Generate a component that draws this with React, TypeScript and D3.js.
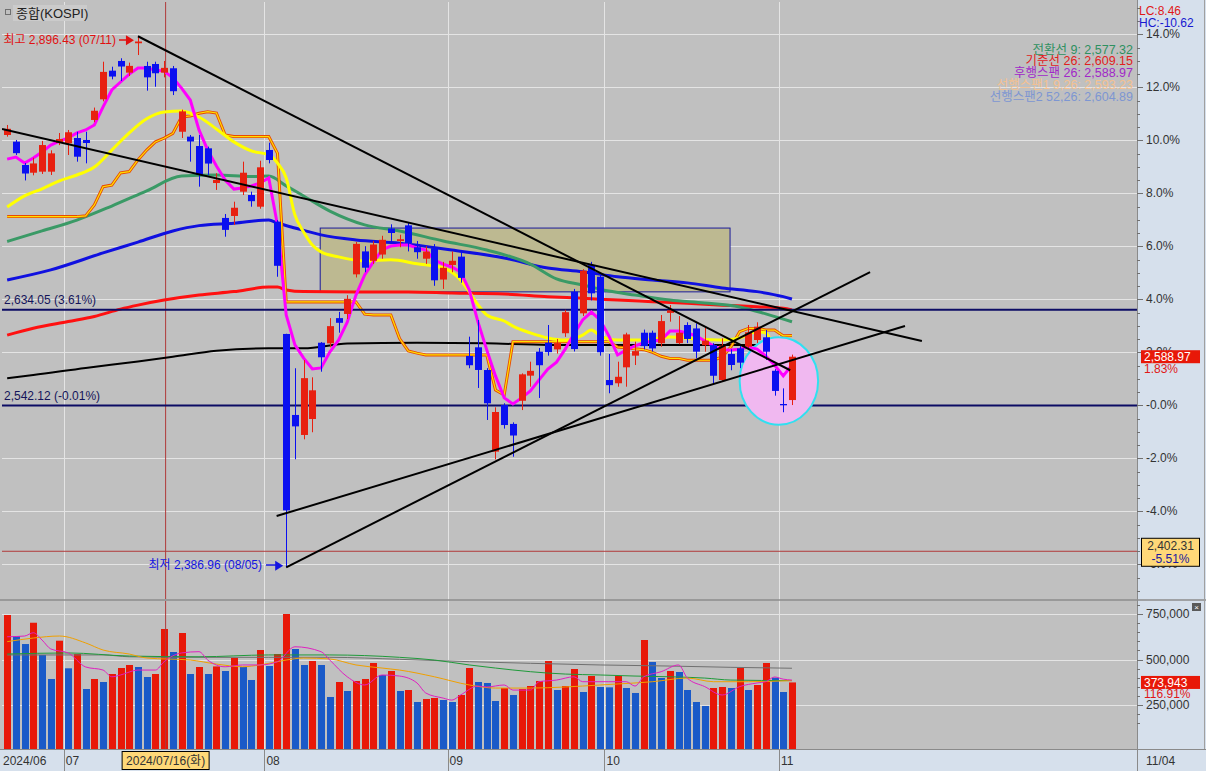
import React from "react";
import * as d3 from "d3";

const W = 1206;
const H = 771;
const BASE = 2542.36;
const FONT = "'Liberation Sans', Arial, 'Noto Sans CJK KR', sans-serif";

const DATES = [
  "06/20","06/21","06/24","06/25","06/26","06/27","06/28",
  "07/01","07/02","07/03","07/04","07/05","07/08","07/09","07/10","07/11","07/12","07/15","07/16","07/17","07/18","07/19","07/22","07/23","07/24","07/25","07/26","07/29","07/30","07/31",
  "08/01","08/02","08/05","08/06","08/07","08/08","08/09","08/12","08/13","08/14","08/16","08/19","08/20","08/21","08/22","08/23","08/26","08/27","08/28","08/29","08/30",
  "09/02","09/03","09/04","09/05","09/06","09/09","09/10","09/11","09/12","09/13","09/19","09/20","09/23","09/24","09/25","09/26","09/27","09/30",
  "10/02","10/04","10/07","10/08","10/10","10/11","10/14","10/15","10/16","10/17","10/18","10/21","10/22","10/23","10/24","10/25","10/28","10/29","10/30","10/31",
  "11/01","11/04",
];

const OPEN = [2801.7,2795.3,2772.9,2765.5,2766.5,2766.5,2794.0,2793.7,2798.8,2796.9,2816.1,2835.9,2863.4,2872.7,2861.5,2889.7,2867.9,2869.8,2861.5,2865.7,2804.8,2800.1,2791.1,2788.9,2755.6,2722.1,2724.0,2747.3,2744.1,2732.9,2787.3,2718.5,2610.8,2533.1,2513.9,2529.2,2602.4,2601.8,2626.0,2630.0,2668.0,2690.0,2681.0,2687.0,2712.0,2700.0,2715.0,2694.0,2683.0,2693.0,2663.0,2677.0,2685.0,2589.7,2598.0,2576.2,2497.9,2542.6,2524.5,2546.7,2570.8,2593.8,2602.4,2596.0,2611.5,2651.4,2630.6,2676.9,2665.7,2566.6,2563.5,2578.8,2590.0,2612.0,2612.0,2601.9,2631.0,2602.0,2619.4,2616.1,2600.0,2600.1,2566.6,2591.6,2597.0,2598.6,2605.0,2607.6,2575.5,2543.6,2547.4];
const HIGH = [2811.3,2796.9,2774.8,2779.9,2796.0,2787.0,2803.6,2806.5,2804.8,2804.8,2828.0,2872.0,2867.2,2875.3,2871.1,2896.43,2872.0,2872.0,2872.7,2867.9,2826.0,2801.7,2801.7,2790.5,2765.0,2725.9,2737.7,2776.1,2747.3,2777.0,2794.3,2720.0,2611.0,2577.9,2585.8,2569.2,2603.0,2626.0,2632.0,2648.0,2699.0,2695.0,2700.0,2705.0,2716.0,2706.0,2718.0,2700.0,2695.0,2697.0,2680.0,2690.0,2690.0,2608.2,2624.2,2578.0,2540.4,2544.3,2526.0,2573.0,2584.2,2597.3,2619.4,2606.0,2634.0,2654.0,2673.0,2680.0,2668.0,2591.6,2584.2,2612.0,2603.4,2615.0,2614.0,2629.0,2638.6,2628.0,2622.0,2621.0,2618.4,2602.0,2606.6,2596.0,2600.0,2619.4,2622.0,2614.6,2577.0,2558.6,2591.0];
const LOW = [2800.1,2782.5,2758.1,2763.0,2764.3,2763.3,2792.0,2782.5,2776.1,2774.5,2814.0,2834.0,2855.1,2853.5,2858.3,2878.4,2844.2,2848.0,2857.0,2840.0,2798.8,2776.1,2752.1,2763.3,2749.0,2704.1,2715.3,2744.1,2732.9,2731.0,2774.5,2665.7,2386.96,2490.6,2509.7,2516.5,2574.6,2598.0,2612.0,2625.0,2665.0,2670.0,2678.0,2683.0,2700.0,2694.0,2690.0,2683.0,2678.0,2657.0,2654.0,2670.0,2660.0,2577.9,2559.0,2528.3,2490.5,2520.0,2493.0,2537.8,2560.2,2549.4,2590.0,2592.0,2608.0,2594.0,2628.0,2643.0,2590.0,2553.9,2560.2,2560.2,2581.0,2596.0,2594.0,2598.6,2622.6,2601.0,2602.0,2587.5,2593.8,2562.8,2565.0,2576.0,2578.0,2595.4,2602.0,2585.8,2551.6,2535.7,2542.6];
const CLOSE = [2807.63,2784.26,2764.73,2774.39,2792.05,2784.06,2797.82,2804.31,2780.86,2794.01,2824.94,2862.23,2857.76,2867.38,2867.99,2891.35,2857.0,2860.92,2866.09,2843.69,2824.35,2795.46,2763.51,2774.29,2758.59,2710.65,2731.9,2765.49,2738.19,2770.69,2777.68,2676.19,2441.55,2522.15,2568.41,2556.73,2588.43,2618.3,2621.5,2644.5,2697.23,2674.36,2696.63,2701.13,2707.67,2701.69,2698.01,2689.25,2689.83,2662.28,2674.31,2681.0,2664.63,2580.8,2576.26,2544.28,2535.93,2523.43,2513.37,2572.09,2575.41,2580.8,2593.37,2602.01,2631.68,2596.32,2671.57,2649.78,2593.27,2561.69,2569.71,2610.38,2594.36,2599.16,2596.91,2623.16,2633.45,2612.0,2606.0,2593.82,2604.39,2570.7,2599.62,2581.03,2583.27,2612.43,2617.8,2593.79,2556.15,2542.36,2588.97];
const VOLUME = [744500,629000,585000,702000,524700,392900,603300,451600,530200,337900,392900,376400,420300,453300,469800,458800,403800,420300,667600,541200,645600,420300,458800,420300,462000,436800,508200,458800,387400,552200,464300,530200,750000,557700,469800,491800,469800,294000,376400,327000,382000,392900,480800,414800,436800,327000,332400,266500,283000,288500,277500,266500,305000,453300,376400,370900,272000,343400,305000,337900,354400,382000,491800,332400,354400,447800,321400,409300,348900,347000,409300,343400,316000,607100,486300,398400,436800,431300,332400,266500,244500,343400,348900,343400,453300,332400,359900,480800,400000,321400,373943];

// lines, values in % of the right axis
const MAGENTA_PCT = [9.29,9.37,9.14,9.33,9.56,9.82,9.97,10.09,10.28,10.39,10.58,11.26,11.9,12.2,12.5,12.73,12.73,12.65,12.61,12.36,11.97,11.52,10.39,9.63,9.03,8.5,8.16,8.2,8.28,8.39,8.58,6.8,3.41,2.28,1.78,1.37,1.41,2.01,2.46,3.14,4.16,4.92,5.41,5.86,6.01,6.05,6.05,5.94,5.86,5.48,5.33,5.22,5.03,4.35,3.14,2.09,1.11,0.28,0.05,0.28,0.54,0.96,1.37,1.63,2.12,2.69,3.22,3.52,3.22,2.62,1.9,2.09,2.24,2.35,2.43,2.46,2.8,2.8,2.73,2.62,2.43,2.24,2.09,2.09,2.12,2.2,2.12,1.86,1.52,1.11,1.52];
const BASELINE_PCT = [7.12,7.12,7.12,7.12,7.12,7.12,7.12,7.12,7.12,7.15,7.56,8.25,8.31,8.77,8.82,9.26,9.63,9.94,10.08,10.26,10.88,10.92,11.02,11.08,11.03,10.2,10.14,10.14,10.14,10.14,10.14,9.51,3.9,3.9,3.9,3.9,3.9,3.9,3.9,3.9,3.9,3.44,3.41,3.41,3.41,2.52,2.05,1.97,1.9,1.9,1.9,1.9,1.9,1.9,1.9,1.9,0.58,0.39,2.4,2.4,2.4,2.4,2.4,2.4,2.4,2.4,2.4,2.4,2.4,2.4,2.2,2.17,2.13,2.1,2.0,1.85,1.77,1.77,1.7,1.7,1.7,1.7,1.83,2.2,2.78,2.9,2.9,2.84,2.84,2.62,2.63];
const YELLOW: [number, number][] = [[0,7.48],[2,7.9],[4,8.17],[6,8.47],[8,8.69],[10,8.99],[12,9.63],[14,10.28],[16,10.81],[18,11.07],[20,11.11],[22,10.88],[24,10.43],[26,9.94],[28,9.6],[30,9.45],[31,9.14],[32,8.58],[33,7.18],[34,6.54],[35,6.05],[36,5.79],[38,5.6],[41,5.45],[44,5.49],[47,5.34],[50,5.18],[52,4.73],[53,4.28],[54,3.79],[55,3.41],[57,3.18],[58,2.99],[60,2.73],[62,2.54],[64,2.46],[66,2.65],[67,2.84],[68,2.62],[70,2.46],[73,2.46],[76,2.58],[79,2.5],[82,2.46],[84,2.54],[86,2.78],[87,2.73],[88,2.2],[89,1.97],[90,1.9]];
const GREEN: [number, number][] = [[0,6.18],[4,6.58],[8,6.99],[12,7.52],[16,8.09],[20,8.65],[24,8.69],[28,8.63],[30,8.65],[32,8.28],[34,7.9],[37,7.33],[41,6.81],[45,6.58],[50,6.2],[55,5.86],[60,5.33],[63,4.77],[66,4.54],[69,4.31],[72,4.16],[76,3.97],[80,3.86],[84,3.71],[87,3.45],[90,3.15]];
const BLUE: [number, number][] = [[0,4.73],[5,5.11],[11,5.75],[15,6.16],[19,6.58],[22,6.78],[26,6.87],[30,6.99],[31,6.88],[33,6.69],[36,6.43],[40,6.24],[45,6.12],[51,5.86],[57,5.56],[62,5.18],[66,5.04],[70,4.85],[74,4.73],[78,4.62],[82,4.43],[86,4.29],[89,4.1],[90,4.01]];
const RED: [number, number][] = [[0,2.65],[3,2.91],[7,3.16],[10,3.35],[13,3.63],[15,3.78],[18,3.97],[22,4.16],[26,4.29],[30,4.46],[31,4.46],[32,4.35],[34,4.29],[40,4.28],[46,4.28],[51,4.24],[57,4.2],[62,4.1],[66,4.04],[70,3.97],[74,3.91],[78,3.85],[82,3.78],[86,3.72],[89,3.66],[90,3.6]];
const BLACK: [number, number][] = [[0,1.02],[3,1.14],[9,1.41],[15,1.65],[19,1.83],[24,2.06],[30,2.15],[34,2.15],[39,2.33],[47,2.36],[55,2.34],[62,2.28],[75,2.28],[90,2.28]];

// volume moving averages
const VOL_MA5: [number, number][] = [[0,625000],[2,629000],[3,647000],[4,607000],[5,558000],[7,536000],[9,459000],[11,442000],[12,405000],[13,415000],[15,442000],[17,442000],[18,488000],[20,536000],[22,543000],[23,497000],[25,460000],[27,470000],[29,470000],[31,488000],[33,570000],[36,543000],[37,497000],[39,405000],[41,360000],[43,415000],[45,409000],[47,371000],[48,316000],[50,288000],[51,277000],[52,305000],[54,354000],[55,349000],[57,360000],[58,332000],[60,332000],[61,378000],[63,387000],[65,405000],[66,378000],[69,378000],[71,378000],[72,354000],[73,405000],[75,433000],[77,470000],[78,398000],[80,351000],[82,305000],[84,351000],[86,371000],[87,378000],[88,404000],[89,392000],[90,387000]];
const VOL_MA20: [number, number][] = [[0,598000],[3,618000],[6,629000],[9,591000],[11,552000],[14,530000],[16,508000],[21,497000],[24,475000],[27,460000],[29,470000],[32,497000],[34,508000],[37,503000],[40,470000],[43,453000],[45,442000],[49,405000],[53,360000],[56,343000],[60,343000],[64,349000],[68,360000],[72,371000],[74,378000],[78,398000],[81,378000],[85,378000],[90,384000]];
const VOL_MA60: [number, number][] = [[0,530000],[7,536000],[14,519000],[22,515000],[30,525000],[37,525000],[45,512000],[49,497000],[53,470000],[56,453000],[60,433000],[64,420000],[68,415000],[72,409000],[76,405000],[80,398000],[83,387000],[90,384000]];
const VOL_MA120: [number, number][] = [[0,525000],[11,525000],[14,515000],[22,512000],[30,512000],[37,512000],[45,501000],[53,488000],[60,479000],[68,470000],[76,464000],[83,457000],[90,452000]];

// drawings: [index1, price1, index2, price2]
const TRENDS: [number, number, number, number][] = [
  [15, 2896.43, 89.8, 2576.0],
  [-0.59, 2807.5, 104.9, 2604.1],
  [32, 2386.96, 98.96, 2670.2],
  [30.9, 2436.1, 102.96, 2618.4],
];
const BOX = [35.9, 2712.4, 82.9, 2651.2];
const ELLIPSE = [88.5, 2565.7, 4.5, 42];
const HLINES = [
  { price: 2634.05, label: "2,634.05 (3.61%)" },
  { price: 2542.12, label: "2,542.12 (-0.01%)" },
];
const PCT_TICKS = [14, 12, 10, 8, 6, 4, 2, 0, -2, -4, -6];
const VOL_TICKS = [750000, 500000, 250000];
const LEGEND = [
  { text: "전환선 9: 2,577.32", color: "#2e9060" },
  { text: "기준선 26: 2,609.15", color: "#e02020" },
  { text: "후행스팬 26: 2,588.97", color: "#a028c8" },
  { text: "선행스팬1 9,26: 2,593.23", color: "#f4c090" },
  { text: "선행스팬2 52,26: 2,604.89", color: "#7d96d2" },
];
const CROSS_INDEX = 18;
const CROSS_PRICE = 2402.31;
const HIGH_INDEX = 15;
const LOW_INDEX = 32;

export default function App() {
  const PL = 2, PR = 1137, PT = 2, PB = 599, VT = 601, VB = 749;
  const x = d3.scaleLinear().domain([0, 90]).range([7.16, 791.96]);
  const y = d3.scaleLinear().domain([BASE, BASE * 1.14]).range([405.3, 34.3]);
  const py = (p: number) => y(BASE * (1 + p / 100));
  const vy = d3.scaleLinear().domain([0, 750000]).range([750.5, 614]);

  const smooth = d3.line<[number, number]>().x((d) => x(d[0])).y((d) => py(d[1])).curve(d3.curveMonotoneX);
  const straight = d3.line<number>().x((_, i) => x(i)).y((d) => py(d));
  const volLine = d3.line<[number, number]>().x((d) => x(d[0])).y((d) => vy(d[1])).curve(d3.curveMonotoneX);

  const CANDLE_RED = "#e82010";
  const CANDLE_BLUE = "#0a10f0";
  const VOL_RED = "#e81808";
  const VOL_BLUE = "#1a5ac8";

  const monthStarts: number[] = [];
  DATES.forEach((d, i) => {
    if (i > 0 && d.slice(0, 2) !== DATES[i - 1].slice(0, 2)) monthStarts.push(i);
  });

  const last = CLOSE.length - 1;
  const lastPct = (CLOSE[last] / BASE - 1) * 100;

  const minorPct = d3.range(-7, 15.01, 0.5);
  const minorVol = d3.range(150000, 800001, 50000);

  return (
    <svg width={W} height={H} style={{ position: "absolute", left: 0, top: 0, background: "#c0c0c0" }} fontFamily={FONT}>
      <defs>
        <clipPath id="price"><rect x={PL} y={PT} width={PR - PL} height={PB - PT} /></clipPath>
        <clipPath id="vol"><rect x={PL} y={VT} width={PR - PL} height={VB - VT} /></clipPath>
      </defs>
      <rect x={0} y={0} width={W} height={H} fill="#c0c0c0" />

      {/* grid */}
      <g stroke="#e4e4e4" strokeWidth={1}>
        {PCT_TICKS.map((p) => (
          <line key={p} x1={PL} x2={PR} y1={Math.round(py(p)) + 0.5} y2={Math.round(py(p)) + 0.5} />
        ))}
        {VOL_TICKS.map((v) => (
          <line key={v} x1={PL} x2={PR} y1={Math.round(vy(v)) + 0.5} y2={Math.round(vy(v)) + 0.5} />
        ))}
        {monthStarts.map((i) => (
          <line key={i} x1={Math.round(x(i - 0.5)) + 0.5} x2={Math.round(x(i - 0.5)) + 0.5} y1={PT} y2={VB} />
        ))}
      </g>

      <g clipPath="url(#price)">
        {/* shaded box */}
        <rect x={x(BOX[0])} y={y(BOX[1])} width={x(BOX[2]) - x(BOX[0])} height={y(BOX[3]) - y(BOX[1])}
          fill="#bdb991" stroke="#1a1a9a" strokeWidth={1} />

        {/* crosshair */}
        <line x1={x(CROSS_INDEX) + 1.5} x2={x(CROSS_INDEX) + 1.5} y1={PT} y2={VB} stroke="#b03a3a" strokeWidth={1} />
        <line x1={PL} x2={PR} y1={y(CROSS_PRICE)} y2={y(CROSS_PRICE)} stroke="#b03a3a" strokeWidth={1} />

        {/* moving averages */}
        <path d={smooth(BLACK) || ""} fill="none" stroke="#000" strokeWidth={2} />
        <path d={smooth(RED) || ""} fill="none" stroke="#ff1010" strokeWidth={3} />
        <path d={smooth(BLUE) || ""} fill="none" stroke="#1010e0" strokeWidth={3} />
        <path d={smooth(GREEN) || ""} fill="none" stroke="#3a9a66" strokeWidth={3} />
        <path d={straight(BASELINE_PCT) || ""} fill="none" stroke="#e84a00" strokeWidth={3} />
        <path d={straight(BASELINE_PCT) || ""} fill="none" stroke="#ffe000" strokeWidth={1.2} />
        <path d={smooth(YELLOW) || ""} fill="none" stroke="#ffff00" strokeWidth={3} />

        {/* horizontal levels */}
        {HLINES.map((h) => (
          <g key={h.label}>
            <line x1={PL} x2={PR} y1={y(h.price)} y2={y(h.price)} stroke="#0c0c64" strokeWidth={2} />
            <text x={4} y={y(h.price) - 6} fontSize={12} fill="#14145a">{h.label}</text>
          </g>
        ))}

        {/* highlight ellipse */}
        <ellipse cx={x(ELLIPSE[0])} cy={y(ELLIPSE[1])} rx={x(ELLIPSE[0] + ELLIPSE[2]) - x(ELLIPSE[0])}
          ry={y(ELLIPSE[1] - ELLIPSE[3]) - y(ELLIPSE[1])} fill="#f0b8f0" stroke="#30e0f0" strokeWidth={2} />

        <path d={straight(MAGENTA_PCT) || ""} fill="none" stroke="#ff00ff" strokeWidth={3} />

        {/* candles */}
        {CLOSE.map((c, i) => {
          const o = OPEN[i];
          const up = c >= o;
          const col = up ? CANDLE_RED : CANDLE_BLUE;
          const cx = Math.round(x(i));
          const top = y(Math.max(o, c));
          const bot = y(Math.min(o, c));
          return (
            <g key={i}>
              <line x1={cx + 0.5} x2={cx + 0.5} y1={y(HIGH[i])} y2={y(LOW[i])} stroke={col} strokeWidth={1} />
              <rect x={cx - 3} y={top} width={7} height={Math.max(1, bot - top)} fill={col} />
            </g>
          );
        })}

        {/* trend lines */}
        {TRENDS.map((t, k) => (
          <line key={k} x1={x(t[0])} y1={y(t[1])} x2={x(t[2])} y2={y(t[3])} stroke="#000" strokeWidth={2} />
        ))}
      </g>

      {/* high / low markers */}
      <text x={116} y={44} fontSize={12} fill="#e01010" textAnchor="end">최고 2,896.43 ({DATES[HIGH_INDEX]})</text>
      <line x1={119} x2={129} y1={40} y2={40} stroke="#e01010" strokeWidth={1.5} />
      <path d={`M${x(HIGH_INDEX) - 4},${y(HIGH[HIGH_INDEX]) + 4} l-8,-5 l0,10 z`} fill="#e01010" />
      <text x={262} y={569} fontSize={12} fill="#1414e0" textAnchor="end">최저 2,386.96 ({DATES[LOW_INDEX]})</text>
      <line x1={266} x2={276} y1={565} y2={565} stroke="#1414e0" strokeWidth={1.5} />
      <path d={`M${x(LOW_INDEX) - 3},${y(LOW[LOW_INDEX]) - 1.5} l-8,-5 l0,10 z`} fill="#1414e0" />

      {/* title */}
      <rect x={13} y={5} width={74} height={16} fill="#cbcbcb" />
      <rect x={5.5} y={9.5} width={5} height={5} fill="none" stroke="#707070" />
      <text x={16} y={18} fontSize={13} fill="#222">종합(KOSPI)</text>

      {/* legend */}
      {LEGEND.map((l, k) => (
        <text key={k} x={1133} y={53.5 + k * 11.8} fontSize={12.5} fill={l.color} textAnchor="end">{l.text}</text>
      ))}

      {/* volume */}
      <g clipPath="url(#vol)">
        {VOLUME.map((v, i) => {
          const col = i === 0 || v >= VOLUME[i - 1] ? VOL_RED : VOL_BLUE;
          const cx = Math.round(x(i));
          return <rect key={i} x={cx - 3} y={vy(v)} width={7} height={VB - vy(v)} fill={col} />;
        })}
        <line x1={x(CROSS_INDEX) + 1.5} x2={x(CROSS_INDEX) + 1.5} y1={VT} y2={VB} stroke="#b03a3a" strokeWidth={1} />
        <path d={volLine(VOL_MA120) || ""} fill="none" stroke="#707070" strokeWidth={1} />
        <path d={volLine(VOL_MA60) || ""} fill="none" stroke="#1f9a3a" strokeWidth={1} />
        <path d={volLine(VOL_MA20) || ""} fill="none" stroke="#f0a000" strokeWidth={1} />
        <path d={volLine(VOL_MA5) || ""} fill="none" stroke="#e020c0" strokeWidth={1} />
      </g>

      {/* right axis */}
      <rect x={PR} y={0} width={W - PR} height={VB} fill="#d6e0ec" />
      <line x1={PR + 0.5} x2={PR + 0.5} y1={0} y2={H} stroke="#8a8a8a" strokeWidth={1} />
      <line x1={0} x2={W} y1={600} y2={600} stroke="#8c8c8c" strokeWidth={1.5} />
      <line x1={W - 1.5} x2={W - 1.5} y1={0} y2={H} stroke="#a0a0a0" strokeWidth={1} />
      <g stroke="#707070" strokeWidth={1}>
        {minorPct.map((p) => (
          <line key={p} x1={PR} x2={PR + (p % 2 === 0 ? 6 : 3)} y1={Math.round(py(p)) + 0.5} y2={Math.round(py(p)) + 0.5} />
        ))}
        {minorVol.map((v) => (
          <line key={v} x1={PR} x2={PR + (v % 250000 === 0 ? 6 : 3)} y1={Math.round(vy(v)) + 0.5} y2={Math.round(vy(v)) + 0.5} />
        ))}
      </g>
      {PCT_TICKS.map((p) => (
        <text key={p} x={1146} y={py(p) + 4} fontSize={12} fill="#333">{p === 0 ? "-0.0%" : `${p.toFixed(1)}%`}</text>
      ))}
      {VOL_TICKS.map((v) => (
        <text key={v} x={1146} y={vy(v) + 4} fontSize={12} fill="#333">{d3.format(",")(v)}</text>
      ))}
      <text x={1139} y={15} fontSize={12} fill="#e01818">LC:8.46</text>
      <text x={1139} y={27} fontSize={12} fill="#1818d0">HC:-10.62</text>

      {/* last price tag */}
      <rect x={1141} y={y(CLOSE[last]) - 6.5} width={59} height={13} fill="#e81808" />
      <text x={1144} y={y(CLOSE[last]) + 4.5} fontSize={12} fill="#fff">{d3.format(",.2f")(CLOSE[last])}</text>
      <text x={1144} y={y(CLOSE[last]) + 16} fontSize={12} fill="#e01818">{lastPct.toFixed(2)}%</text>

      {/* crosshair price tag */}
      <rect x={1141.5} y={y(CROSS_PRICE) - 13} width={58} height={28} fill="#ffd878" stroke="#000" strokeWidth={1} />
      <text x={1170.5} y={y(CROSS_PRICE) - 1} fontSize={12} fill="#333" textAnchor="middle">{d3.format(",.2f")(CROSS_PRICE)}</text>
      <text x={1170.5} y={y(CROSS_PRICE) + 12} fontSize={12} fill="#1818a0" textAnchor="middle">{((CROSS_PRICE / BASE - 1) * 100).toFixed(2)}%</text>

      {/* volume tag */}
      <rect x={1141} y={vy(VOLUME[last]) - 6.5} width={59} height={13} fill="#e81808" />
      <text x={1144} y={vy(VOLUME[last]) + 4.5} fontSize={12} fill="#fff">{d3.format(",")(VOLUME[last])}</text>
      <text x={1144} y={vy(VOLUME[last]) + 16} fontSize={12} fill="#e01818">116.91%</text>
      <rect x={1192} y={603} width={9} height={8} fill="#5a5a5a" />
      <text x={1196.5} y={610} fontSize={8} fill="#fff" textAnchor="middle">×</text>

      {/* date axis */}
      <rect x={0} y={VB} width={W} height={H - VB} fill="#d6e0ec" />
      <line x1={0} x2={W} y1={VB + 0.5} y2={VB + 0.5} stroke="#8a8a8a" />
      <line x1={PR + 0.5} x2={PR + 0.5} y1={VB} y2={H} stroke="#8a8a8a" />
      <text x={3} y={765} fontSize={12} fill="#333">2024/{DATES[0].slice(0, 2)}</text>
      {monthStarts.map((i) => (
        <g key={i}>
          <line x1={Math.round(x(i - 0.5)) + 0.5} x2={Math.round(x(i - 0.5)) + 0.5} y1={VB} y2={H} stroke="#8a8a8a" />
          <text x={x(i - 0.5) + 2} y={765} fontSize={12} fill="#333">{DATES[i].slice(0, 2)}</text>
        </g>
      ))}
      <text x={1146} y={765} fontSize={12} fill="#333">{DATES[last]}</text>
      <rect x={x(CROSS_INDEX) - 42} y={751.5} width={87} height={18} fill="#ffd878" stroke="#000" strokeWidth={1} />
      <text x={x(CROSS_INDEX) + 1.5} y={765} fontSize={12} fill="#333" textAnchor="middle">2024/{DATES[CROSS_INDEX]}(화)</text>
    </svg>
  );
}
